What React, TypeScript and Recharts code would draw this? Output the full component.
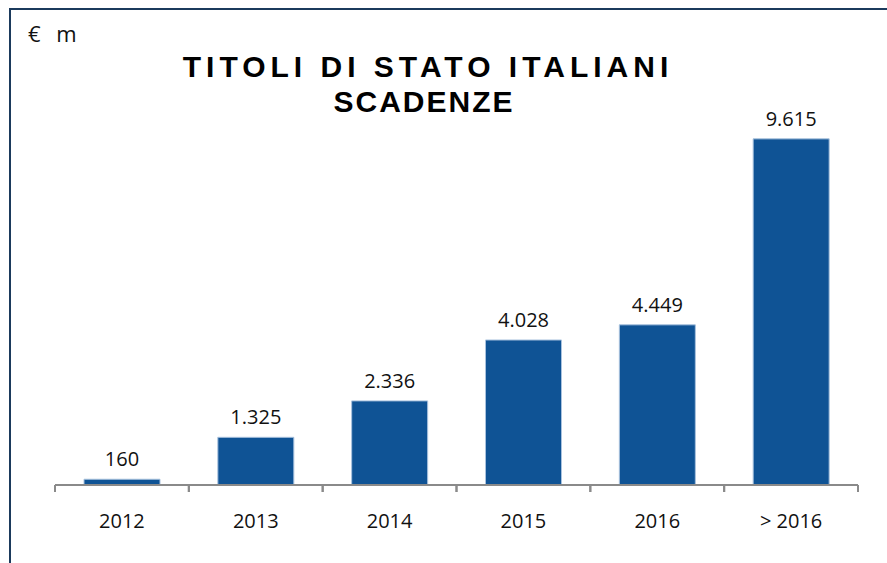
import React from 'react'
import { BarChart, Bar, XAxis, YAxis, LabelList } from 'recharts'

const categories = ['2012', '2013', '2014', '2015', '2016', '> 2016']
const amounts = [160, 1325, 2336, 4028, 4449, 9615]

const titleLines = ['TITOLI DI STATO ITALIANI', 'SCADENZE']
const unitLabel = '€ m'

const data = categories.map((year, i) => ({ year, amount: amounts[i] }))

const FONT = '"Open Sans", "DejaVu Sans", sans-serif'
const BAR_FILL = '#0F5395'
const AXIS_GREY = '#8A8A8A'

// dot as thousands separator, italian style
function fmt(v: number) {
  return String(v).replace(/\B(?=(\d{3})+(?!\d))/g, '.')
}

function YearTick({ x, y, payload }: { x?: number; y?: number; payload?: { value: string; offset?: number } }) {
  if (x === undefined || y === undefined || !payload) return null
  const half = payload.offset ?? 66.9
  return (
    <g>
      <line x1={x - half} y1={y} x2={x - half} y2={y + 7} stroke={AXIS_GREY} strokeWidth={2} />
      <line x1={x + half} y1={y} x2={x + half} y2={y + 7} stroke={AXIS_GREY} strokeWidth={2} />
      <text x={x} y={y + 43} textAnchor="middle" fontFamily={FONT} fontSize={20} fill="#111">
        {payload.value}
      </text>
    </g>
  )
}

export default function App() {
  return (
    <div style={{ position: 'absolute', left: 0, top: 0, width: 887, height: 563, background: '#fff' }}>
      {/* frame: only top and left edges are visible */}
      <div
        style={{
          position: 'absolute',
          left: 9,
          top: 8,
          width: 878,
          height: 555,
          borderTop: '2px solid #1B3A5C',
          borderLeft: '2px solid #1B3A5C',
        }}
      />
      <svg width={887} height={563} style={{ position: 'absolute', left: 0, top: 0 }}>
        <text x={28} y={42} fontFamily={FONT} fontSize={22} fill="#111" wordSpacing={10}>
          {unitLabel}
        </text>
        <text
          x={428}
          y={77}
          textAnchor="middle"
          fontFamily='"Liberation Sans", Arial, sans-serif'
          fontWeight="bold"
          fontSize={30}
          letterSpacing={5}
          fill="#000"
        >
          {titleLines[0]}
        </text>
        <text
          x={424}
          y={112}
          textAnchor="middle"
          fontFamily='"Liberation Sans", Arial, sans-serif'
          fontWeight="bold"
          fontSize={30}
          letterSpacing={2}
          fill="#000"
        >
          {titleLines[1]}
        </text>
      </svg>
      <div style={{ position: 'absolute', left: 0, top: 0 }}>
        <BarChart width={887} height={563} data={data} margin={{ top: 125, right: 29, left: 55, bottom: 38 }}>
          <YAxis hide domain={[0, 10000]} />
          <XAxis
            dataKey="year"
            height={40}
            interval={0}
            tickLine={false}
            tickSize={0}
            tickMargin={0}
            axisLine={{ stroke: AXIS_GREY, strokeWidth: 2 }}
            tick={<YearTick />}
          />
          <Bar dataKey="amount" fill={BAR_FILL} stroke="#A9C2DE" strokeWidth={1} barSize={76} isAnimationActive={false}>
            <LabelList
              dataKey="amount"
              position="top"
              offset={13}
              formatter={(v: number) => fmt(v)}
              style={{ fontFamily: FONT, fontSize: 20, fill: '#111' }}
            />
          </Bar>
        </BarChart>
      </div>
    </div>
  )
}
